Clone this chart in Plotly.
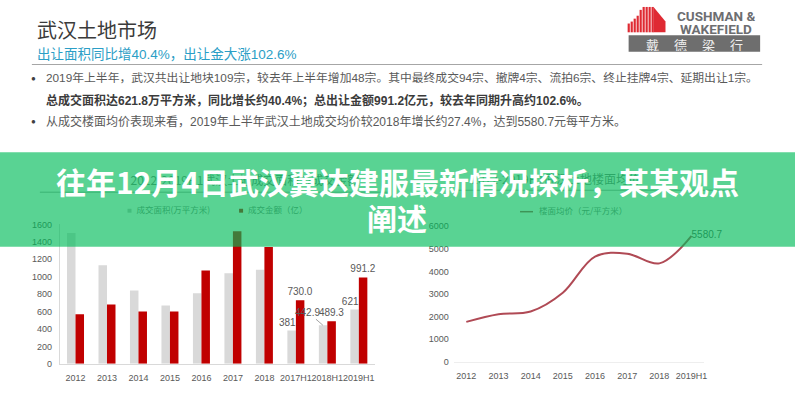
import plotly.graph_objects as go

W, H = 798, 400


def px(x):
    return x / W


def py(y):
    return 1 - y / H


# ---------------- data ----------------
bar_categories = ["2012", "2013", "2014", "2015", "2016", "2017", "2018",
                  "2017H1", "2018H1", "2019H1"]
area_values = [1500, 1130, 840, 670, 810, 1040, 1080, 381.8, 442.9, 621.8]      # 成交面积(万平方米)
amount_values = [570, 680, 600, 600, 1070, 1520, 1340, 730.0, 489.3, 991.2]     # 成交金额(亿)
area_labelled = ["2017H1", "2019H1"]
amount_labelled = ["2017H1", "2018H1", "2019H1"]
area_callout = "2018H1"

line_categories = ["2012", "2013", "2014", "2015", "2016", "2017", "2018", "2019H1"]
price_values = [1770, 2110, 2230, 3060, 4660, 4790, 4360, 5580.7]               # 楼面均价(元/平方米)

left_ticks = [0, 200, 400, 600, 800, 1000, 1200, 1400, 1600]
right_ticks = [0, 1000, 2000, 3000, 4000, 5000, 6000]

GRAY_BAR = "#d9d9d9"
RED_BAR = "#c00000"
LINE_RED = "#b04a55"
TXT = "#595959"
NUM_FONT = "Liberation Sans, Arial, Noto Sans CJK SC"
CJK_FONT = "Noto Sans CJK SC, Liberation Sans"

area_text = [f"{v:.1f}" if c in area_labelled else "" for c, v in zip(bar_categories, area_values)]
amount_text = [f"{v:.1f}" if c in amount_labelled else "" for c, v in zip(bar_categories, amount_values)]
price_text = ["" for _ in price_values[:-1]] + [f"{price_values[-1]:.1f}"]

fig = go.Figure()
fig.add_trace(go.Bar(
    x=bar_categories, y=area_values, name="成交面积(万平方米)",
    marker=dict(color=GRAY_BAR, line=dict(width=0)),
    text=area_text, textposition="outside", constraintext="none", cliponaxis=False,
    textfont=dict(size=10, color=TXT, family=NUM_FONT),
    xaxis="x", yaxis="y", showlegend=False, hoverinfo="skip"))
fig.add_trace(go.Bar(
    x=bar_categories, y=amount_values, name="成交金额（亿）",
    marker=dict(color=RED_BAR, line=dict(width=0)),
    text=amount_text, textposition="outside", constraintext="none", cliponaxis=False,
    textfont=dict(size=10, color=TXT, family=NUM_FONT),
    xaxis="x", yaxis="y", showlegend=False, hoverinfo="skip"))
fig.add_trace(go.Scatter(
    x=line_categories, y=price_values, mode="lines+text", name="楼面均价（元/平方米）",
    line=dict(color=LINE_RED, width=2, shape="spline", smoothing=1.0),
    text=price_text, textposition="middle right", cliponaxis=False,
    textfont=dict(size=10, color=TXT, family=NUM_FONT),
    xaxis="x2", yaxis="y2", showlegend=False, hoverinfo="skip"))

# ---------------- decorations ----------------
shapes = []


def text_shape(x, y, text, size, color, family=CJK_FONT, width=260):
    return dict(type="rect", xref="paper", yref="paper",
                x0=px(x), x1=px(x + width), y0=py(y + 7), y1=py(y - 7),
                line=dict(width=0), fillcolor="rgba(0,0,0,0)", layer="above",
                label=dict(text=text, textposition="middle left", padding=0,
                           font=dict(size=size, color=color, family=family)))


# header rule
shapes.append(dict(type="line", xref="paper", yref="paper", x0=px(32), x1=px(765),
                   y0=py(61), y1=py(61), line=dict(color="#a6a6a6", width=1.2)))

# logo building
stripe_x = [630, 633, 636, 639, 642, 645, 648, 651, 654]
stripe_top = [19, 17, 14, 11, 5, 2, 2, 2, 2]
for sx, st in zip(stripe_x, stripe_top):
    shapes.append(dict(type="rect", xref="paper", yref="paper", x0=px(sx), x1=px(sx + 2.2),
                       y0=py(28), y1=py(st), line=dict(width=0), fillcolor="#df2a33"))
shapes.append(dict(type="path", xref="paper", yref="paper",
                   path=f"M {px(656)},{py(2)} L {px(668)},{py(17)} L {px(668)},{py(28)} L {px(656)},{py(28)} Z",
                   line=dict(width=0), fillcolor="#df2a33"))
shapes.append(dict(type="rect", xref="paper", yref="paper", x0=px(631), x1=px(763),
                   y0=py(48), y1=py(31), line=dict(width=0), fillcolor="#6e6e6e"))

# elements that sit under the banner
shapes.append(dict(type="line", xref="paper", yref="paper", x0=px(40), x1=px(390),
                   y0=py(192), y1=py(192), line=dict(color="#a6a6a6", width=1), layer="above"))
shapes.append(dict(type="line", xref="paper", yref="paper", x0=px(460), x1=px(740),
                   y0=py(190), y1=py(190), line=dict(color="#a6a6a6", width=1), layer="above"))
shapes.append(text_shape(128, 181, "2012-2019H1武汉土地成交面积与成交金额", 12, "#7f7f7f"))
shapes.append(text_shape(470, 180, "2012-2019H1武汉土地楼面均价", 12, "#7f7f7f"))
shapes.append(dict(type="rect", xref="paper", yref="paper", x0=px(128), x1=px(132),
                   y0=py(213), y1=py(209), line=dict(width=0), fillcolor="#bfbfbf", layer="above"))
shapes.append(text_shape(134, 211, "成交面积(万平方米)", 8.5, "#7f7f7f", width=100))
shapes.append(dict(type="rect", xref="paper", yref="paper", x0=px(240), x1=px(244),
                   y0=py(213), y1=py(209), line=dict(width=0), fillcolor=RED_BAR, layer="above"))
shapes.append(text_shape(246, 211, "成交金额（亿）", 8.5, "#7f7f7f", width=80))
shapes.append(dict(type="line", xref="paper", yref="paper", x0=px(522), x1=px(535),
                   y0=py(212), y1=py(212), line=dict(color=LINE_RED, width=1.5), layer="above"))
shapes.append(text_shape(538, 212, "楼面均价（元/平方米）", 8.5, "#7f7f7f", width=110))

# green banner
shapes.append(dict(type="rect", xref="paper", yref="paper", x0=0, x1=1,
                   y0=py(248), y1=py(151), line=dict(width=0),
                   fillcolor="rgba(0,188,89,0.65)", layer="above"))

annotations = []


def note(x, y, text, size, color, family=CJK_FONT, xanchor="left", weight="normal", height=None):
    a = dict(xref="paper", yref="paper", x=px(x), y=py(y), text=text,
             showarrow=False, xanchor=xanchor, yanchor="middle", borderpad=0,
             font=dict(size=size, color=color, family=family, weight=weight))
    if height is not None:
        a["height"] = height
    annotations.append(a)


note(36, 25, "武汉土地市场", 20, "#3b3b3b")
note(36, 51, "出让面积同比增40.4%，出让金大涨102.6%", 13.5, "#2b9ec6", family=NUM_FONT)
note(30, 75, "●", 8, "#404040", family=NUM_FONT)
note(45, 75, "2019年上半年，武汉共出让地块109宗，较去年上半年增加48宗。其中最终成交94宗、撤牌4宗、流拍6宗、终止挂牌4宗、延期出让1宗。",
     11.8, TXT, family=NUM_FONT)
note(45, 97.5, "总成交面积达621.8万平方米，同比增长约40.4%；总出让金额991.2亿元，较去年同期升高约102.6%。",
     12, "#3b3b3b", family=NUM_FONT, weight="bold")
note(30, 119, "●", 8, "#404040", family=NUM_FONT)
note(45, 119, "从成交楼面均价表现来看，2019年上半年武汉土地成交均价较2018年增长约27.4%，达到5580.7元每平方米。",
     12, TXT, family=NUM_FONT)

# logo text
note(719, 11.5, "CUSHMAN &", 13.5, "#6d6e71", family="Roboto, Liberation Sans", xanchor="center",
     weight="bold", height=12)
note(719, 25, "WAKEFIELD", 13.5, "#6d6e71", family="Roboto, Liberation Sans", xanchor="center",
     weight="bold", height=12)
for cx, ch in zip([655, 683, 711, 739], ["戴", "德", "梁", "行"]):
    note(cx, 39.5, ch, 13, "#eeeeee", xanchor="center", height=14)

# banner title
note(398.5, 181, "往年12月4日武汉翼达建服最新情况探析，某某观点", 30, "#ffffff", xanchor="center",
     weight="bold", height=34)
note(398.5, 217, "阐述", 30, "#ffffff", xanchor="center", weight="bold", height=34)

# callout label with leader line
ci = bar_categories.index(area_callout)
annotations.append(dict(xref="x", yref="y", x=area_callout, y=area_values[ci], xshift=-4.5,
                        text=f"{area_values[ci]:.1f}", showarrow=True, arrowhead=0,
                        arrowwidth=0.8, arrowcolor="#8c8c8c", ax=-15, ay=-13,
                        font=dict(size=10, color=TXT, family=NUM_FONT)))

fig.update_layout(
    width=W, height=H, margin=dict(l=0, r=0, t=0, b=0),
    paper_bgcolor="white", plot_bgcolor="rgba(0,0,0,0)",
    barmode="group", bargap=0.46, bargroupgap=0,
    shapes=shapes, annotations=annotations, showlegend=False,
    xaxis=dict(domain=[px(60), px(376)], anchor="y", type="category", tickangle=0,
               showline=True, linecolor="#d9d9d9", linewidth=1, ticks="", ticklabelstandoff=5,
               showgrid=False, tickfont=dict(size=9, color=TXT, family=NUM_FONT), fixedrange=True),
    yaxis=dict(domain=[py(368), py(225)], anchor="x", range=[0, 1600],
               tickvals=left_ticks, showline=True, linecolor="#d9d9d9", linewidth=1,
               showgrid=False, zeroline=False, ticks="", ticklabelstandoff=5,
               tickfont=dict(size=9, color=TXT, family=NUM_FONT), fixedrange=True),
    xaxis2=dict(domain=[px(455.5), px(706.7)], anchor="y2", type="category", tickangle=0,
                showline=True, linecolor="#eeeeee", linewidth=1, ticks="", ticklabelstandoff=5,
                showgrid=False, tickfont=dict(size=9, color=TXT, family=NUM_FONT), fixedrange=True),
    yaxis2=dict(domain=[py(366), py(227)], anchor="x2", range=[0, 6000],
                tickvals=right_ticks, showline=False, showgrid=False, zeroline=False,
                ticks="", ticklabelstandoff=4,
                tickfont=dict(size=9, color=TXT, family=NUM_FONT), fixedrange=True),
)

fig.write_html("out.html")
